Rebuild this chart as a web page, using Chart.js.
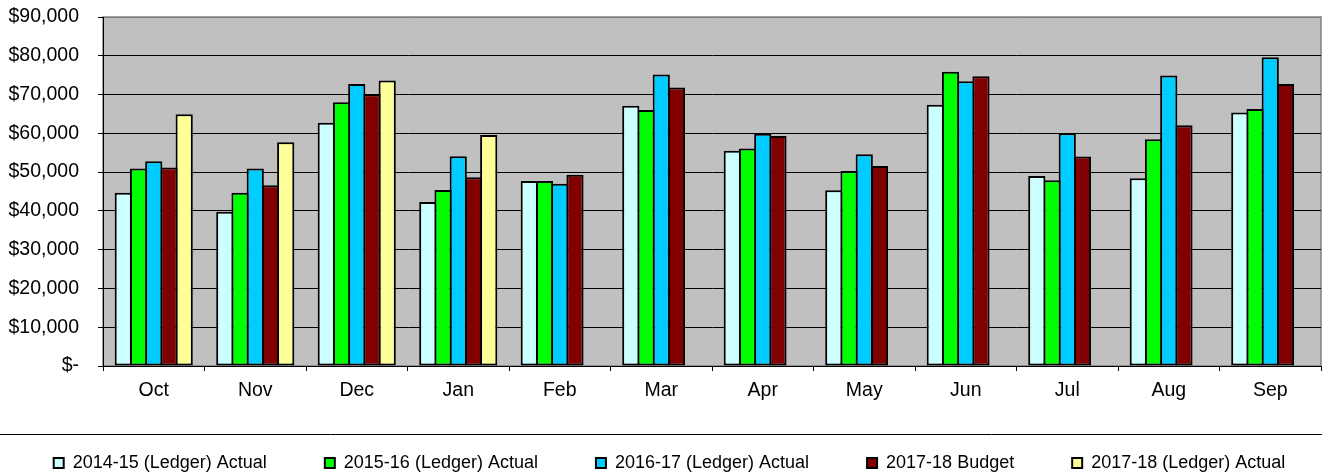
<!DOCTYPE html>
<html>
<head>
<meta charset="utf-8">
<script src="https://cdn.jsdelivr.net/npm/chart.js@4"></script>
<style>
  html,body{margin:0;padding:0;background:#fff;}
  #wrap{width:1322px;height:475px;}
</style>
</head>
<body>
<div id="wrap"><canvas id="chart"></canvas></div>
<script>
// Veriler
const months = ["Oct","Nov","Dec","Jan","Feb","Mar","Apr","May","Jun","Jul","Aug","Sep"];
const ledger1415 = [44700,39800,62700,42300,47700,67100,55500,45300,67400,49000,48400,65400];
const ledger1516 = [50900,44700,68000,45400,47700,66000,56100,50300,75900,47900,58500,66300];
const ledger1617 = [52800,50900,72700,54100,47000,75200,59900,54600,73400,60000,74900,79600];
const budget1718 = [51200,46600,70100,48700,49300,71800,59300,51600,74700,54000,62100,72700];
const ledger1718 = [64900,57700,73600,59600,null,null,null,null,null,null,null,null];
const seriesNames = ["2014-15 (Ledger) Actual","2015-16 (Ledger) Actual","2016-17 (Ledger) Actual","2017-18 Budget","2017-18 (Ledger) Actual"];
const seriesColors = ["#CCFFFF","#00FF00","#00CCFF","#800000","#FFFF99"];
const yTicks = [0,10000,20000,30000,40000,50000,60000,70000,80000,90000];

Chart.defaults.font.family = 'Arial, "Liberation Sans", sans-serif';
Chart.defaults.font.size = 19.5;
Chart.defaults.color = "#000";

const legendPad = 58;
const legendH = 64;

// gri zemin + cerceve, legend ustundeki cizgi
const plotBg = {
  id:"plotBg",
  beforeDraw(chart){
    const {ctx, chartArea:a} = chart;
    ctx.save();
    ctx.fillStyle = "#C0C0C0";
    ctx.fillRect(a.left, a.top, a.right-a.left, a.bottom-a.top);
    ctx.strokeStyle = "#808080"; ctx.lineWidth = 1.5;
    ctx.strokeRect(a.left, a.top, a.right-a.left, a.bottom-a.top);
    ctx.restore();
  },
  afterLayout(chart){
    // legend'i biraz yukari/saga kaydir; sag kenari genislet ki 5. oge alt satira dusmesin
    const lg = chart.legend;
    lg.top -= 15;
    lg.left += 9 - 400; lg.right += 9 + 400;
  },
  afterDraw(chart){
    const {ctx} = chart;
    const y = Math.round(chart.legend.top + legendPad - 20) + 0.5;
    ctx.save();
    ctx.strokeStyle = "#000"; ctx.lineWidth = 1;
    ctx.beginPath(); ctx.moveTo(0,y); ctx.lineTo(chart.width,y); ctx.stroke();
    ctx.restore();
  }
};

const allSeries = [ledger1415, ledger1516, ledger1617, budget1718, ledger1718];
const datasets = allSeries.map((d,i)=>({
  label: seriesNames[i],
  data: d,
  backgroundColor: seriesColors[i],
  borderColor: "#000",
  borderWidth: 2,
  borderSkipped: false,
  barPercentage: 1.13,
  categoryPercentage: 0.75
}));

const chart = new Chart(document.getElementById("chart"), {
  type: "bar",
  data: { labels: months, datasets: datasets },
  options: {
    responsive: true,
    maintainAspectRatio: false,
    animation: false,
    layout: { padding: { top: 17, right: 1, left: 0, bottom: 0 } },
    plugins: {
      tooltip: { enabled: false },
      legend: {
        position: "bottom",
        labels: { boxWidth: 10, boxHeight: 10, padding: legendPad, color: "#000", font: { size: 18 } }
      }
    },
    scales: {
      x: {
        grid: { display: true, drawOnChartArea: false, offset: true, tickLength: 5, color: "#000" },
        border: { color: "#000", width: 1 },
        ticks: { padding: 8, color: "#000", maxRotation: 0 },
        afterFit(s){ s.height = 45; }
      },
      y: {
        min: 0, max: 90000,
        afterBuildTicks(s){ s.ticks = yTicks.map(v=>({value:v})); },
        grid: {
          color: c => c.tick && c.tick.value === 90000 ? "#808080" : "#000",
          tickColor: "#000", tickLength: 5, lineWidth: 1
        },
        border: { color: "#000", width: 1 },
        ticks: {
          padding: 19, color: "#000",
          callback: v => v === 0 ? "$-" : "$" + v.toLocaleString("en-US")
        },
        afterFit(s){ s.width = 103; s.paddingTop = 0; s.paddingBottom = 0; }
      }
    }
  },
  plugins: [plotBg]
});

// legend tek satirda kalsin
const lg = chart.legend;
const oldFit = lg.fit;
lg.fit = function(){
  const w = this.maxWidth;
  this.maxWidth = w + 400;
  oldFit.call(this);
  this.maxWidth = w; this.width = w;
  this.height = legendH;
};
chart.update();
</script>
</body>
</html>
